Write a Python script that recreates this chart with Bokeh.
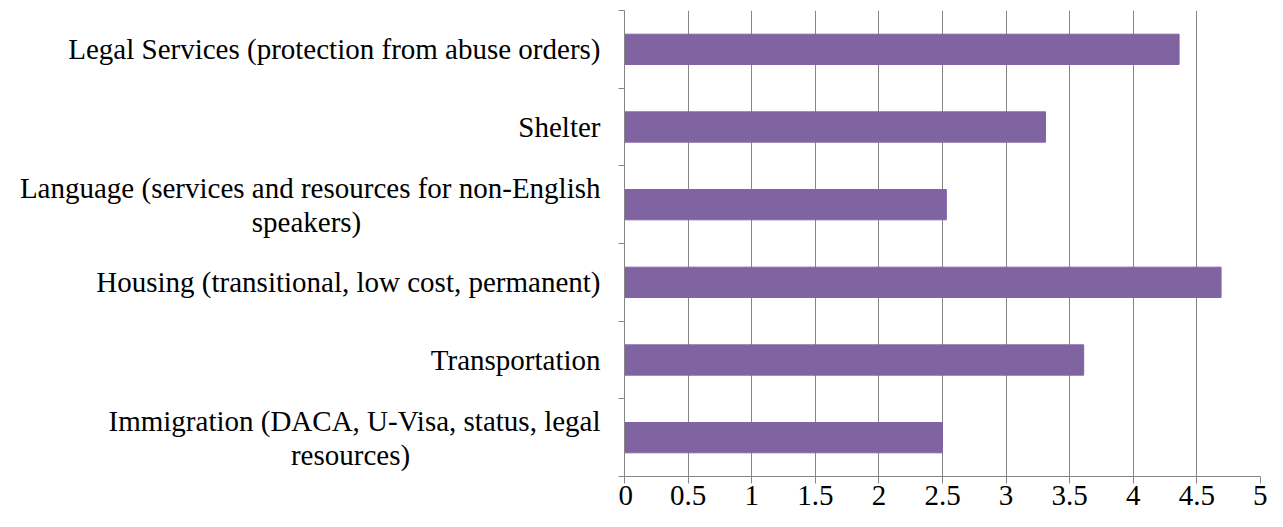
from bokeh.plotting import figure
from bokeh.layouts import row
from bokeh.models import Range1d, FixedTicker
from bokeh.core.properties import value
from bokeh.embed import file_html
from bokeh.resources import INLINE

categories = [
    "Legal Services (protection from abuse orders)",
    "Shelter",
    "Language (services and resources for non-English\nspeakers)",
    "Housing (transitional, low cost, permanent)",
    "Transportation",
    "Immigration (DACA, U-Visa, status, legal\nresources)",
]
values = [4.36, 3.31, 2.53, 4.69, 3.61, 2.50]
x_ticks = [0, 0.5, 1, 1.5, 2, 2.5, 3, 3.5, 4, 4.5, 5]
x_tick_labels = ["0", "0.5", "1", "1.5", "2", "2.5", "3", "3.5", "4", "4.5", "5"]

# ---- layout / style constants (screen px) ----
FONT = "Liberation Serif"
FS = "29px"
LABEL_W = 618            # width of the category-label panel
TEXT_RIGHT = 600         # right edge of category texts
LINE_HALF = 17           # half line spacing for two-line labels
FIRST_LINE_W = {2: 588, 5: 500}   # approx width of first line of wrapped labels
TOP, BOTTOM = 10, 35
AXIS_COLOR = "#868686"
BAR_COLOR = "#8064A2"

n = len(categories)
ys = [n - i - 0.5 for i in range(n)]
y_range = Range1d(0, n)

# ---- main chart ----
p = figure(width=1267 - LABEL_W, height=511,
           x_range=Range1d(0, 5), y_range=y_range,
           output_backend="svg", toolbar_location=None,
           min_border_left=6, min_border_right=7,
           min_border_top=TOP, min_border_bottom=BOTTOM)

p.hbar(y=ys, left=0, right=values, height=0.39,
       fill_color=BAR_COLOR, line_color=BAR_COLOR, line_width=1)

p.outline_line_color = None

xa = p.xaxis[0]
xa.ticker = FixedTicker(ticks=x_ticks)
xa.major_label_overrides = {t: l for t, l in zip(x_ticks, x_tick_labels)}
xa.axis_line_color = AXIS_COLOR
xa.major_tick_line_color = AXIS_COLOR
xa.minor_tick_line_color = None
xa.major_tick_in = 0
xa.major_tick_out = 7
xa.major_label_standoff = 2
xa.major_label_text_font = FONT
xa.major_label_text_font_size = FS
xa.major_label_text_color = "black"

ya = p.yaxis[0]
ya.ticker = FixedTicker(ticks=list(range(n + 1)))
ya.major_label_overrides = {i: "" for i in range(n + 1)}
ya.major_label_standoff = 0
ya.major_label_text_font_size = "1px"
ya.axis_line_color = AXIS_COLOR
ya.major_tick_line_color = AXIS_COLOR
ya.minor_tick_line_color = None
ya.major_tick_in = 0
ya.major_tick_out = 6

p.xgrid.ticker = FixedTicker(ticks=x_ticks)
p.xgrid.grid_line_color = AXIS_COLOR
p.xgrid.grid_line_width = 1
p.ygrid.grid_line_color = None

# ---- category label panel ----
lp = figure(width=LABEL_W, height=511,
            x_range=Range1d(0, LABEL_W), y_range=y_range,
            output_backend="svg", toolbar_location=None,
            x_axis_location=None, y_axis_location=None,
            min_border_left=0, min_border_right=0,
            min_border_top=TOP, min_border_bottom=BOTTOM)
lp.outline_line_color = None
lp.grid.visible = False

r_x, r_y, r_t, r_off = [], [], [], []
c_x, c_y, c_t, c_off = [], [], [], []
for i, cat in enumerate(categories):
    lines = cat.split("\n")
    if len(lines) == 1:
        r_x.append(TEXT_RIGHT); r_y.append(ys[i]); r_t.append(lines[0]); r_off.append(0)
    else:
        r_x.append(TEXT_RIGHT); r_y.append(ys[i]); r_t.append(lines[0]); r_off.append(-LINE_HALF)
        c_x.append(TEXT_RIGHT - FIRST_LINE_W[i] / 2); c_y.append(ys[i]); c_t.append(lines[1]); c_off.append(LINE_HALF)

lp.text(x=r_x, y=r_y, text=r_t, y_offset=r_off,
        text_align="right", text_baseline="middle",
        text_font=value(FONT), text_font_size=value(FS), text_color="black")
lp.text(x=c_x, y=c_y, text=c_t, y_offset=c_off,
        text_align="center", text_baseline="middle",
        text_font=value(FONT), text_font_size=value(FS), text_color="black")

layout = row(lp, p)
open("out.html", "w").write(file_html(layout, INLINE))
